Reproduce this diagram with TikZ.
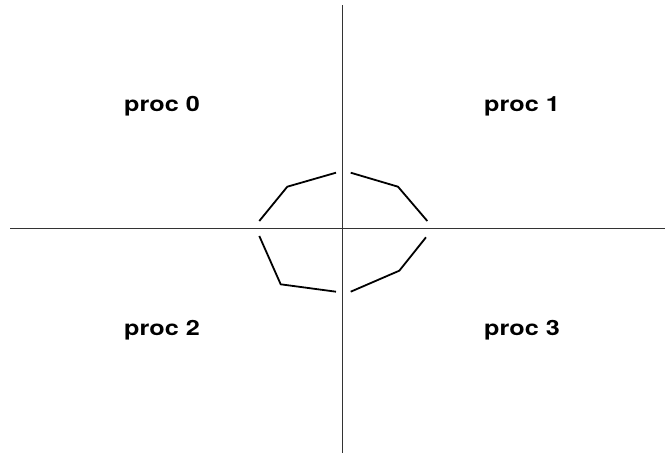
\documentclass[tikz,border=0pt]{standalone}
\usepackage{fontspec}
\setmainfont{TeX Gyre Heros}
\begin{document}
\begin{tikzpicture}[x=1pt,y=-1pt,
  axis/.style={line width=0.8pt,black!80},
  seg/.style={line width=1.8pt,line join=miter},
  lbl/.style={font=\fontsize{21}{24}\selectfont\bfseries,xscale=1.2,inner sep=0pt}]
\useasboundingbox (0,0) rectangle (665,453);
\coordinate (hl) at (10,228.5);
\coordinate (hr) at (665,228.5);
\coordinate (vt) at (342.5,5);
\coordinate (vb) at (342.5,453);
\draw[axis] (hl) -- (hr);
\draw[axis] (vt) -- (vb);
\coordinate (a1) at (259.3,221);
\coordinate (a2) at (287.3,186.7);
\coordinate (a3) at (336,172.7);
\coordinate (b1) at (350.7,172.7);
\coordinate (b2) at (398,186.7);
\coordinate (b3) at (427.3,221);
\coordinate (c1) at (259.3,236);
\coordinate (c2) at (280.7,284.3);
\coordinate (c3) at (336,291.7);
\coordinate (d1) at (350.7,291.7);
\coordinate (d2) at (399.3,270.7);
\coordinate (d3) at (426,237.3);
\draw[seg] (a1) -- (a2) -- (a3);
\draw[seg] (b1) -- (b2) -- (b3);
\draw[seg] (c1) -- (c2) -- (c3);
\draw[seg] (d1) -- (d2) -- (d3);
\node[lbl] (p0) at (162,106) {proc 0};
\node[lbl] (p1) at (522,106) {proc 1};
\node[lbl] (p2) at (162,330) {proc 2};
\node[lbl] (p3) at (522,330) {proc 3};
\end{tikzpicture}
\end{document}
